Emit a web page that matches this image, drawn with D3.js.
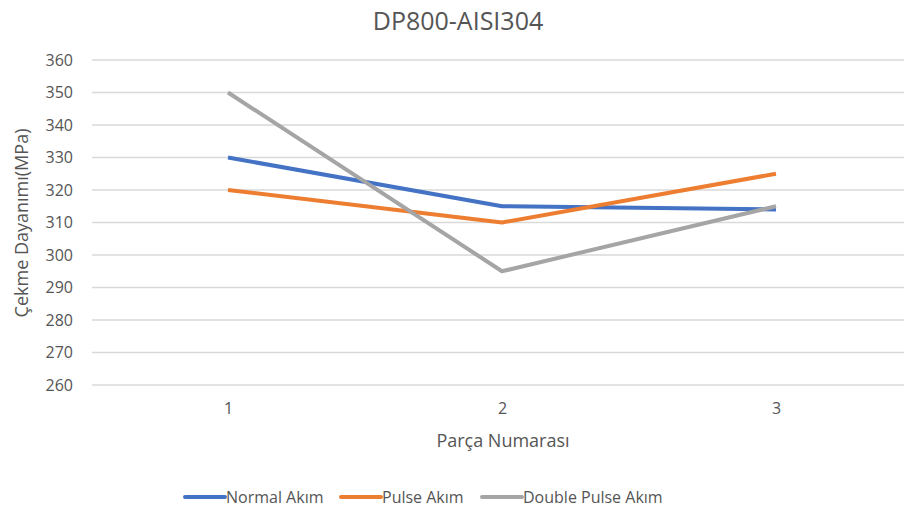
<!DOCTYPE html>
<html>
<head>
<meta charset="utf-8">
<script src="https://cdn.jsdelivr.net/npm/d3@7"></script>
<style>
	body { margin: 0; background: #fff; }
	text { font-family: "Open Sans", sans-serif; fill: #555; }
</style>
</head>
<body>
<svg width="904" height="520"></svg>
<script>
// chart data
const categories = ["1", "2", "3"];
const seriesNames = ["Normal Akım", "Pulse Akım", "Double Pulse Akım"];
const normalAkim = [330, 315, 314];
const pulseAkim = [320, 310, 325];
const doublePulseAkim = [350, 295, 315];
const yTicks = [260, 270, 280, 290, 300, 310, 320, 330, 340, 350, 360];

const colors = ["#4472C4", "#ED7D31", "#A5A5A5"];
const series = [normalAkim, pulseAkim, doublePulseAkim];

let svg = d3.select("svg"),
	width = +svg.attr("width"),
	height = +svg.attr("height");

let x = d3.scalePoint().domain(categories).range([228, 776]);
let y = d3.scaleLinear().domain([260, 360]).range([385, 60]);

// gridlines
svg.append("g")
	.selectAll("line")
	.data(yTicks)
	.enter().append("line")
		.attr("x1", 92)
		.attr("x2", width)
		.attr("y1", d => y(d))
		.attr("y2", d => y(d))
		.attr("stroke", "#d9d9d9")
		.attr("stroke-width", 1.3);

// y axis labels
let yAxis = svg.append("g")
	.attr("transform", "translate(73,0)")
	.call(d3.axisLeft(y).tickValues(yTicks).tickSize(0).tickPadding(0))
	.attr("font-size", 16)
	.attr("font-family", null);
yAxis.select(".domain").remove();
yAxis.selectAll("text").style("fill", "#555");

// x axis labels
let xAxis = svg.append("g")
	.attr("transform", "translate(0,400)")
	.call(d3.axisBottom(x).tickSize(0).tickPadding(3))
	.attr("font-size", 16)
	.attr("font-family", null);
xAxis.select(".domain").remove();
xAxis.selectAll("text").style("fill", "#555");

// lines
let line = d3.line()
	.x((d, i) => x(categories[i]))
	.y(d => y(d));

svg.append("g")
	.selectAll("path")
	.data(series)
	.enter().append("path")
		.attr("d", line)
		.attr("fill", "none")
		.attr("stroke", (d, i) => colors[i])
		.attr("stroke-width", 4)
		.attr("stroke-linejoin", "round");

// titles
svg.append("text")
	.attr("x", 458)
	.attr("y", 30)
	.attr("text-anchor", "middle")
	.style("font-size", "25px")
	.text("DP800-AISI304");

svg.append("text")
	.attr("x", 503)
	.attr("y", 447)
	.attr("text-anchor", "middle")
	.style("font-size", "18px")
	.text("Parça Numarası");

svg.append("text")
	.attr("transform", "translate(28,223) rotate(-90)")
	.attr("text-anchor", "middle")
	.style("font-size", "18px")
	.text("Çekme Dayanımı(MPa)");

// legend
let legendX = [185, 341, 482];
let legend = svg.append("g")
	.selectAll("g")
	.data(seriesNames)
	.enter().append("g")
		.attr("transform", (d, i) => "translate(" + legendX[i] + ",497)");

legend.append("line")
	.attr("x1", 0)
	.attr("x2", 40)
	.attr("stroke", (d, i) => colors[i])
	.attr("stroke-width", 4)
	.attr("stroke-linecap", "round");

legend.append("text")
	.attr("x", 41)
	.attr("y", 6)
	.style("font-size", "16px")
	.text(d => d);
</script>
</body>
</html>
